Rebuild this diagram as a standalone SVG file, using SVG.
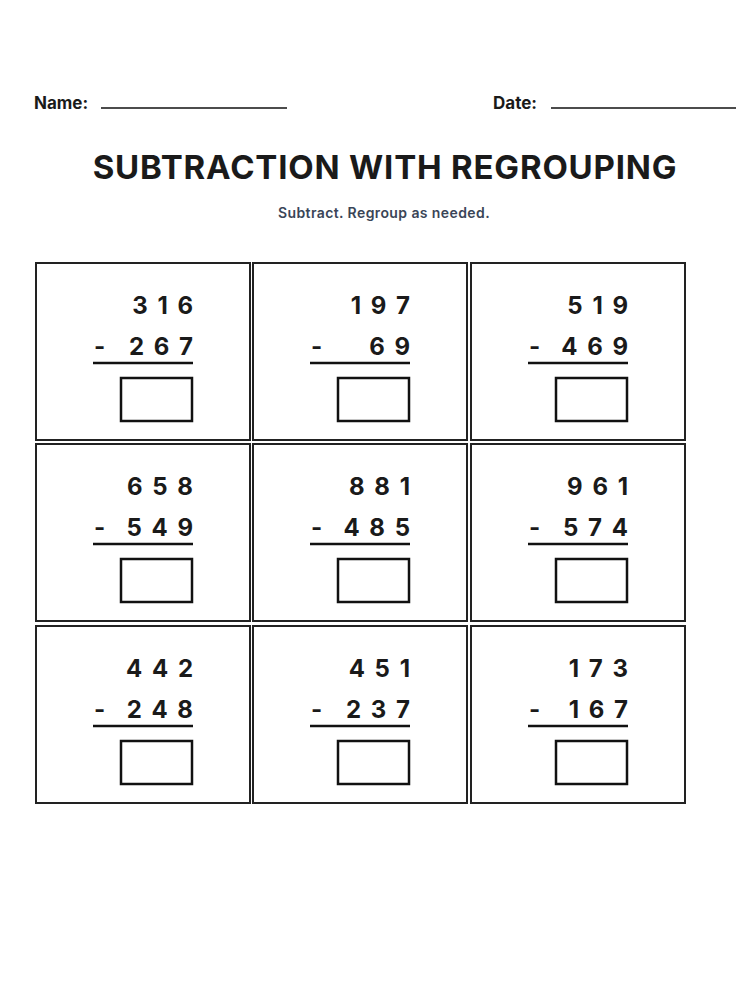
<svg xmlns="http://www.w3.org/2000/svg" width="750" height="1000" viewBox="0 0 750 1000">
<style>
text{font-family:Inter,"Liberation Sans",sans-serif;fill:#1a1a1a}
.lbl{font-size:17px;font-weight:700}
.t{font-size:33px;font-weight:700;text-anchor:middle;letter-spacing:0.8px}
.s{font-size:14px;font-weight:600;fill:#3a4557;text-anchor:middle;letter-spacing:0.4px}
.d{font-size:24px;font-weight:700;text-anchor:end;letter-spacing:2px}
.m{font-size:24px;font-weight:700}
.cell{fill:#fff;stroke:#222;stroke-width:2}
.ans{fill:#fff;stroke:#111;stroke-width:2.5}
.ul{stroke:#111;stroke-width:2.5}
.hl{stroke:#111;stroke-width:1.5}
</style>
<rect width="750" height="1000" fill="#fff"/>
<text class="lbl" x="34" y="109">Name:</text>
<line class="hl" x1="101" y1="108" x2="287" y2="108"/>
<text class="lbl" x="493" y="109">Date:</text>
<line class="hl" x1="551" y1="108" x2="736" y2="108"/>
<text class="t" x="385" y="179">SUBTRACTION WITH REGROUPING</text>
<text class="s" x="384" y="218">Subtract. Regroup as needed.</text>
<defs>
<g id="frame">
<rect class="cell" x="0" y="0" width="214" height="177"/>
<line class="ul" x1="57" y1="100" x2="157" y2="100"/>
<rect class="ans" x="85" y="115" width="71" height="43"/>
<text class="m" x="58" y="92">-</text>
</g>
</defs>
<g id="p1" transform="translate(36,263)"><use href="#frame"/><text class="d" x="159" y="51">3 1 6</text><text class="d" x="159" y="92">2 6 7</text></g>
<g id="p2" transform="translate(253,263)"><use href="#frame"/><text class="d" x="159" y="51">1 9 7</text><text class="d" x="159" y="92">6 9</text></g>
<g id="p3" transform="translate(471,263)"><use href="#frame"/><text class="d" x="159" y="51">5 1 9</text><text class="d" x="159" y="92">4 6 9</text></g>
<g id="p4" transform="translate(36,444)"><use href="#frame"/><text class="d" x="159" y="51">6 5 8</text><text class="d" x="159" y="92">5 4 9</text></g>
<g id="p5" transform="translate(253,444)"><use href="#frame"/><text class="d" x="159" y="51">8 8 1</text><text class="d" x="159" y="92">4 8 5</text></g>
<g id="p6" transform="translate(471,444)"><use href="#frame"/><text class="d" x="159" y="51">9 6 1</text><text class="d" x="159" y="92">5 7 4</text></g>
<g id="p7" transform="translate(36,626)"><use href="#frame"/><text class="d" x="159" y="51">4 4 2</text><text class="d" x="159" y="92">2 4 8</text></g>
<g id="p8" transform="translate(253,626)"><use href="#frame"/><text class="d" x="159" y="51">4 5 1</text><text class="d" x="159" y="92">2 3 7</text></g>
<g id="p9" transform="translate(471,626)"><use href="#frame"/><text class="d" x="159" y="51">1 7 3</text><text class="d" x="159" y="92">1 6 7</text></g>
</svg>
